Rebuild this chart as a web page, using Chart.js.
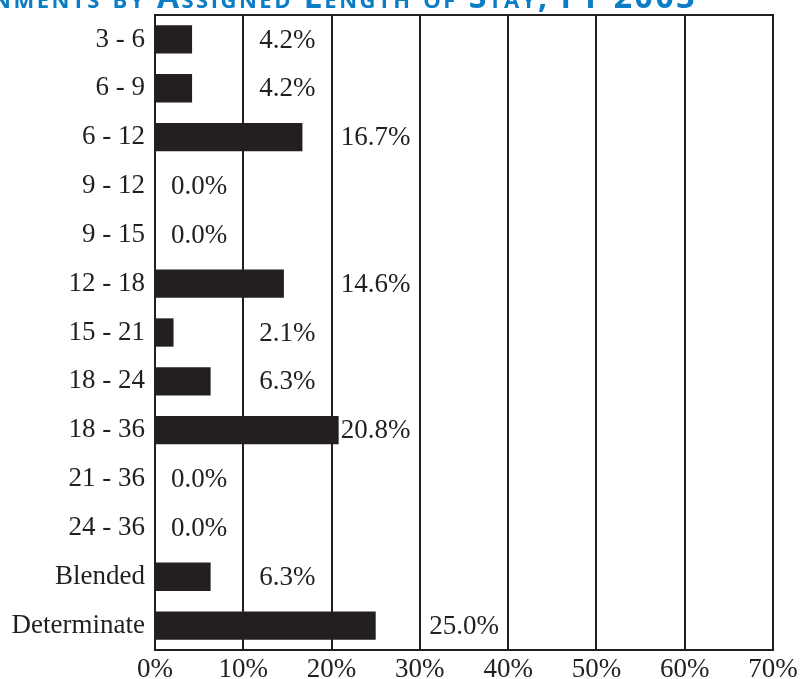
<!DOCTYPE html>
<html lang="en">
<head>
    <meta charset="UTF-8">
    <title>Assignments by Assigned Length of Stay, FY 2003</title>
    <script src="https://cdn.jsdelivr.net/npm/chart.js"></script>
    <style>
        body {
            margin: 0;
            padding: 0;
            background: #ffffff;
            overflow: hidden;
        }
        .wrap {
            position: relative;
            width: 801px;
            height: 679px;
            overflow: hidden;
        }
        .title {
            position: absolute;
            right: 104px;
            top: -20px;
            white-space: nowrap;
            font-family: "Open Sans", sans-serif;
            font-weight: 700;
            font-variant: small-caps;
            font-size: 32px;
            letter-spacing: 2.5px;
            color: #0a7dc6;
            line-height: 1;
        }
        canvas {
            position: absolute;
            left: 0;
            top: 0;
        }
    </style>
</head>
<body>
    <div class="wrap">
        <canvas id="stayChart" width="801" height="679"></canvas>
        <div class="title">Figure 4: Assignments by Assigned Length of Stay, FY 2003</div>
    </div>

    <script>
        // length of stay groups (months)
        const categories = ['3 - 6', '6 - 9', '6 - 12', '9 - 12', '9 - 15', '12 - 18', '15 - 21',
            '18 - 24', '18 - 36', '21 - 36', '24 - 36', 'Blended', 'Determinate'];
        // share of assignments, percent
        const shares = [4.2, 4.2, 16.7, 0.0, 0.0, 14.6, 2.1, 6.3, 20.8, 0.0, 0.0, 6.3, 25.0];
        const tickValues = [0, 10, 20, 30, 40, 50, 60, 70];

        const INK = '#231f20';
        const SERIF = '"Liberation Serif", "Times New Roman", serif';
        const FONT_SIZE = 27;

        // frame round the plot area
        const framePlugin = {
            id: 'frame',
            afterDraw(chart) {
                const a = chart.chartArea;
                const c = chart.ctx;
                c.save();
                c.strokeStyle = INK;
                c.lineWidth = 2;
                c.strokeRect(a.left, a.top, a.right - a.left, a.bottom - a.top);
                c.restore();
            }
        };

        // percent labels sit centred in a grid column next to each bar
        const valueLabels = {
            id: 'valueLabels',
            afterDatasetsDraw(chart) {
                const c = chart.ctx;
                const xs = chart.scales.x;
                const meta = chart.getDatasetMeta(0);
                c.save();
                c.font = FONT_SIZE + 'px ' + SERIF;
                c.fillStyle = INK;
                c.textAlign = 'center';
                c.textBaseline = 'middle';
                meta.data.forEach((bar, i) => {
                    const v = shares[i];
                    const col = Math.max(0, Math.ceil((v - 1) / 10));
                    c.fillText(v.toFixed(1) + '%', xs.getPixelForValue(col * 10 + 5), bar.y + 1);
                });
                c.restore();
            }
        };

        const ctx = document.getElementById('stayChart').getContext('2d');
        const chart = new Chart(ctx, {
            type: 'bar',
            data: {
                labels: categories,
                datasets: [{
                    data: shares,
                    backgroundColor: INK,
                    borderWidth: 0,
                    barPercentage: 0.58,
                    categoryPercentage: 1.0
                }]
            },
            options: {
                indexAxis: 'y',
                responsive: false,
                animation: false,
                layout: { padding: { top: 15, right: 28, left: 0, bottom: 0 } },
                plugins: {
                    legend: { display: false },
                    tooltip: { enabled: false },
                    title: { display: false }
                },
                scales: {
                    x: {
                        min: 0,
                        max: 70,
                        afterBuildTicks(scale) {
                            scale.ticks = tickValues.map(v => ({ value: v }));
                        },
                        afterFit(scale) {
                            scale.height = 29;
                            scale.paddingLeft = 0;
                            scale.paddingRight = 0;
                        },
                        grid: { color: INK, lineWidth: 2, drawTicks: false },
                        border: { color: INK, width: 2 },
                        ticks: {
                            color: INK,
                            padding: 4,
                            font: { family: SERIF, size: FONT_SIZE },
                            callback: v => v + '%'
                        }
                    },
                    y: {
                        afterFit(scale) {
                            scale.width = 155;
                            scale.paddingTop = 0;
                            scale.paddingBottom = 0;
                        },
                        grid: { display: false, drawTicks: false },
                        border: { color: INK, width: 2 },
                        ticks: {
                            color: INK,
                            padding: 10,
                            font: { family: SERIF, size: FONT_SIZE }
                        }
                    }
                }
            },
            plugins: [valueLabels, framePlugin]
        });
    </script>
</body>
</html>
